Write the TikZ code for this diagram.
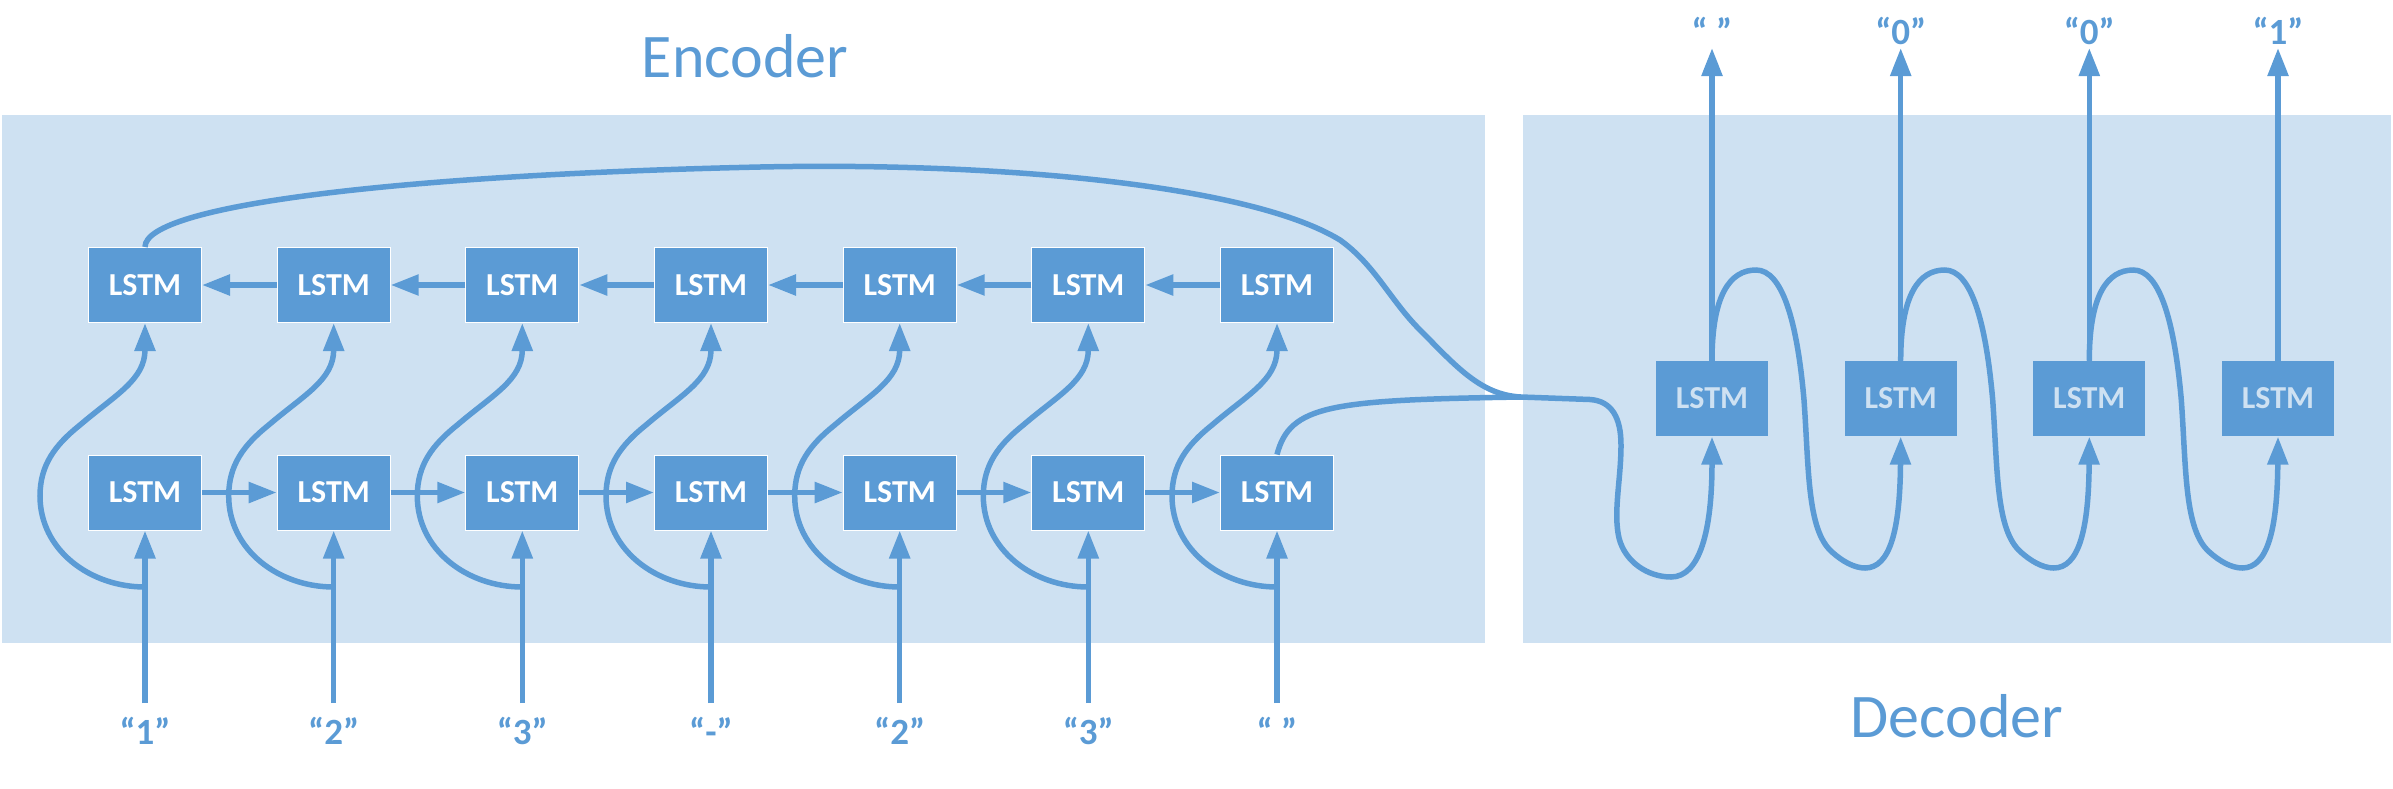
\documentclass[tikz,border=0pt]{standalone}
\usepackage{fontspec}
\setmainfont{Carlito}
\usetikzlibrary{arrows.meta}
\definecolor{acc}{HTML}{5B9BD5}
\definecolor{bgc}{HTML}{CEE1F2}
\begin{document}
\begin{tikzpicture}[x=1pt,y=-1pt,
  lstm/.style={fill=acc, draw=white, line width=1pt, minimum width=113pt, minimum height=75pt, inner sep=0pt, text=white, font=\fontsize{32}{32}\selectfont\bfseries},
  dlstm/.style={lstm, draw=none, text=bgc, minimum width=112pt},
  conn/.style={draw=acc, line width=5.5pt},
  arr/.style={conn, -{Triangle[length=28pt,width=20pt]}},
  lbl/.style={text=acc, font=\fontsize{37}{37}\selectfont\bfseries, anchor=base, inner sep=0pt},
  ttl/.style={text=acc, font=\fontsize{62}{62}\selectfont, anchor=base, inner sep=0pt}]
\useasboundingbox (0,0) rectangle (2393,788);
\fill[bgc] (2,115) rectangle (1485,643);
\fill[bgc] (1523,115) rectangle (2391,643);
\node[ttl] (enc) at (745,77) {Encoder};
\node[ttl] (dec) at (1957,737) {Decoder};
% encoder nodes
\foreach \i/\x/\t in {1/145/1,2/333.7/2,3/522.3/3,4/711/-,5/899.7/2,6/1088.3/3,7/1277/\ } {
  \node[lstm] (f\i) at (\x,285) {LSTM};
  \node[lstm] (e\i) at (\x,492.5) {LSTM};
  \coordinate (in\i) at (\x,703);
  \coordinate (b\i) at (\x,587);
  \node[lbl] (il\i) at (\x,744) {“\t”};
}
% decoder nodes
\foreach \i/\x/\t in {1/1712/\ ,2/1900.7/0,3/2089.3/0,4/2278/1} {
  \node[dlstm] (d\i) at (\x,398.6) {LSTM};
  \coordinate (o\i) at (\x,48);
  \node[lbl] (ol\i) at (\x,44) {“\t”};
  \draw[arr] (d\i.north) -- (o\i);
}
\coordinate (m) at (1521,397);
% encoder connectors
\foreach \i/\x in {1/145,2/333.7,3/522.3,4/711,5/899.7,6/1088.3,7/1277} {
  \draw[arr] (in\i) -- (e\i.south);
  \draw[arr] (b\i) .. controls (\x-55,587) and (\x-105,550) .. (\x-105,496)
     .. controls (\x-105,465) and (\x-90,445) .. (\x-65,425)
     .. controls (\x-30,395) and (\x,380) .. (f\i.south);
}
\foreach \i [evaluate=\i as \j using int(\i+1)] in {1,...,6} {
  \draw[arr] (e\i.east) -- (e\j.west);
  \draw[arr] (f\j.west) -- (f\i.east);
}
% encoder to decoder
\draw[conn] (f1.north) .. controls (145,205) and (400,175) .. (760,167)
   .. controls (1000,162) and (1250,185) .. (1340,240)
   .. controls (1375,265) and (1390,300) .. (1420,330)
   .. controls (1455,365) and (1480,395) .. (m);
\draw[conn] (e7.north) .. controls (1290,405) and (1330,400) .. (m);
\draw[arr] (m) -- (1590,399.5) .. controls (1612,401) and (1621,418) .. (1621,445)
   .. controls (1621,480) and (1613,512) .. (1619,538)
   .. controls (1625,562) and (1648,577) .. (1671,577)
   .. controls (1700,577) and (1712,530) .. (d1.south);
% decoder loops
\foreach \i/\x in {1/1712,2/1900.7,3/2089.3} {
  \pgfmathtruncatemacro{\j}{\i+1}
  \draw[arr] (d\i.north) .. controls (\x,295) and (\x+18,270) .. (\x+44,270)
     .. controls (\x+70,270) and (\x+85,320) .. (\x+92,400)
     .. controls (\x+97,470) and (\x+95,530) .. (\x+120,552)
     .. controls (\x+130,561) and (\x+142,568) .. (\x+153,568)
     .. controls (\x+178,568) and (\x+188,530) .. (d\j.south);
}
\end{tikzpicture}
\end{document}
